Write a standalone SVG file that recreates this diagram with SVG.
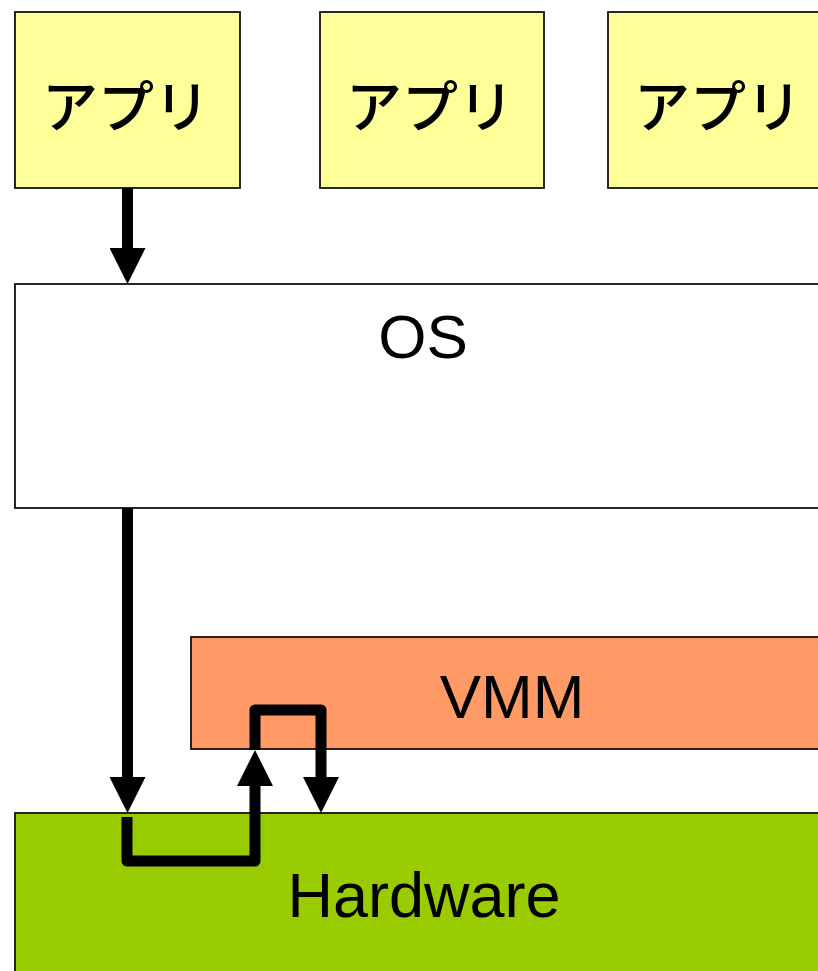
<svg xmlns="http://www.w3.org/2000/svg" width="818" height="971" viewBox="0 0 818 971">
<style>
.box{stroke:#111;stroke-width:1.8}
.app{fill:#FFFF99}
.jp{font-family:"Noto Sans CJK JP","Liberation Sans",sans-serif;font-size:56px;font-weight:500;fill:#000;text-anchor:middle}
.lt{font-family:"Liberation Sans",Arial,sans-serif;font-size:62px;fill:#000;text-anchor:middle}
.conn{fill:none;stroke:#000;stroke-width:11;stroke-linejoin:round;stroke-linecap:butt}
</style>
<defs>
<marker id="ah" markerUnits="userSpaceOnUse" viewBox="0 0 36 36" markerWidth="36" markerHeight="36" refX="1" refY="18" orient="auto">
<path d="M0,0 L36,18 L0,36 Z" fill="#000"/>
</marker>
</defs>
<rect width="818" height="971" fill="#fff"/>
<g id="app1"><rect class="box app" x="15" y="12" width="225" height="176"/><text class="jp" x="126" y="127">アプリ</text></g>
<g id="app2"><rect class="box app" x="320" y="12" width="224" height="176"/><text class="jp" x="430" y="127">アプリ</text></g>
<g id="app3"><rect class="box app" x="608" y="12" width="240" height="176"/><text class="jp" x="718" y="127">アプリ</text></g>
<g id="os"><rect class="box" fill="#fff" x="15" y="284" width="830" height="224"/><text class="lt" x="423" y="358">OS</text></g>
<g id="vmm"><rect class="box" fill="#FF9966" x="191" y="637" width="660" height="112"/><text class="lt" x="512" y="718">VMM</text></g>
<g id="hardware"><rect class="box" fill="#99CC00" x="15" y="813" width="830" height="180"/><text class="lt" x="424" y="917" style="font-size:63px">Hardware</text></g>
<g id="connectors">
<path class="conn" d="M127.5,188 V249" marker-end="url(#ah)"/>
<path class="conn" d="M127.5,508 V778" marker-end="url(#ah)"/>
<path class="conn" d="M127,817 V861 H255 V785" marker-end="url(#ah)"/>
<path class="conn" d="M255,750 V710 H321 V778" marker-end="url(#ah)"/>
</g>
</svg>
